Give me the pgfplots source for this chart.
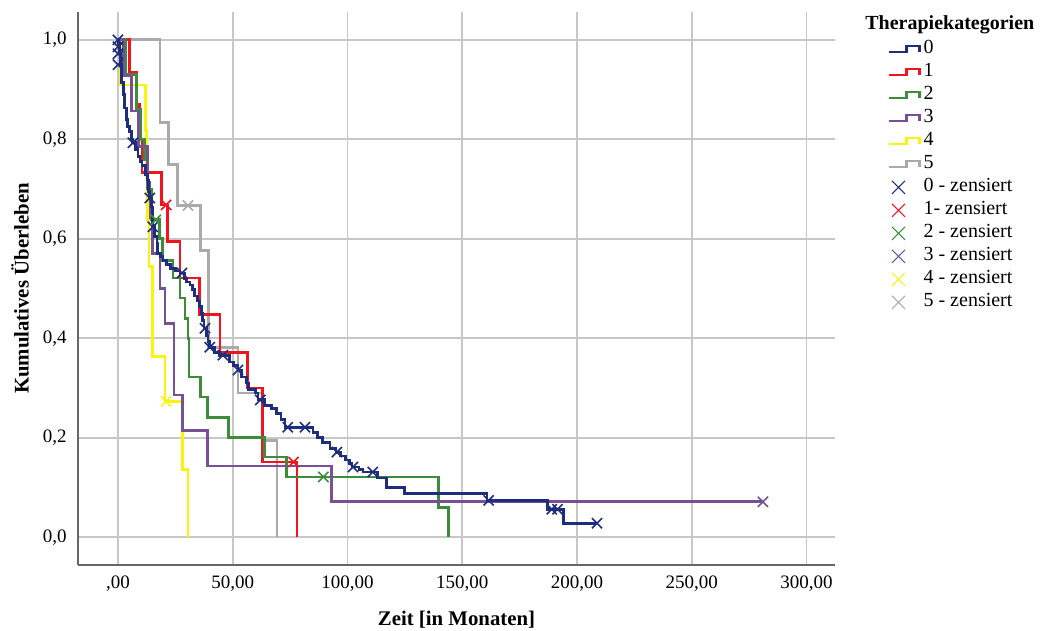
\documentclass[border=0pt]{standalone}
\usepackage{pgfplots}
\pgfplotsset{compat=1.18}
\usepackage{fontspec}
\setmainfont{Liberation Serif}
\definecolor{c0}{RGB}{30,45,125}
\definecolor{c1}{RGB}{240,20,30}
\definecolor{c2}{RGB}{60,140,60}
\definecolor{c3}{RGB}{120,80,150}
\definecolor{c4}{RGB}{248,245,10}
\definecolor{c5}{RGB}{170,170,170}
\pgfplotsset{
  steplegend/.style={legend image code/.code={\draw[##1] (0pt,-1.5pt) -- (9pt,-1.5pt) -- (9pt,1.5pt) -- (15.5pt,1.5pt) -- (15.5pt,-1.5pt);}},
  xlegend/.style={legend image code/.code={\draw[##1] plot coordinates {(5pt,0pt)};}},
  km/.style={const plot, line width=1.4pt, forget plot},
  cens/.style={only marks, mark=x, mark size=3.6pt, line width=0.8pt, forget plot},
}
\begin{document}
\begin{tikzpicture}[x=1pt,y=1pt]
\path[use as bounding box] (0,0) rectangle (520,315.5);
\begin{axis}[
  at={(39pt,33pt)}, anchor=south west,
  scale only axis, width=378.5pt, height=276.5pt,
  xmin=-17.4, xmax=312.4, ymin=-0.056, ymax=1.056,
  axis x line=bottom, axis y line=left,
  axis line style={-, draw=black!60, line width=0.8pt},
  tick style={draw=none},
  grid=major, major grid style={draw=black!22, line width=0.9pt},
  xtick={0,50,100,150,200,250,300},
  xticklabels={{\textnormal{,00}},{\textnormal{50,00}},{\textnormal{100,00}},{\textnormal{150,00}},{\textnormal{200,00}},{\textnormal{250,00}},{\textnormal{300,00}}},
  ytick={0,0.2,0.4,0.6,0.8,1.0},
  yticklabels={{\textnormal{0,0}},{\textnormal{0,2}},{\textnormal{0,4}},{\textnormal{0,6}},{\textnormal{0,8}},{\textnormal{1,0}}},
  ticklabel style={font=\fontsize{9.5}{11}\selectfont},
  xlabel={Zeit [in Monaten]}, ylabel={Kumulatives Überleben},
  every axis x label/.style={at={(axis description cs:0.5,-0.0995)},anchor=center,font=\fontsize{10.4}{12}\selectfont\bfseries},
  every axis y label/.style={at={(axis description cs:-0.0766,0.5)},anchor=center,rotate=90,font=\fontsize{10.4}{12}\selectfont\bfseries},
  clip=false,
  legend cell align=left,
  legend style={at={(axis description cs:1.0687,0.9539)}, anchor=north west, draw=none, fill=none,
    inner sep=0pt, row sep=0pt, column sep=1.5pt,
    nodes={inner sep=0pt, text height=8pt, text depth=3.5pt, font=\fontsize{10}{11}\selectfont}},
]
% ---------- step lines ----------
\addplot[km, color=c5] table {
x y
0 1.0
18.3 0.833
22 0.75
26 0.667
35.8 0.577
39.4 0.382
52.3 0.29
63.2 0.195
69.3 0
};
\addplot[km, color=c4] table {
x y
0 1.0
1 0.909
12 0.818
12.5 0.727
13 0.636
13.5 0.545
15 0.364
20.5 0.273
28.3 0.136
30.5 0
};
\addplot[km, color=c1] table {
x y
0 1.0
5 0.935
8 0.87
9.5 0.80
10.5 0.734
19 0.668
21.5 0.594
27 0.521
35.5 0.447
44.5 0.372
56.5 0.30
63 0.151
78 0
};
\addplot[km, color=c2] table {
x y
0 1.0
3.5 0.93
8 0.86
10 0.80
11.5 0.76
13 0.70
14.5 0.638
18 0.6
19.5 0.557
24 0.521
27 0.481
29.2 0.44
30.5 0.40
31 0.322
36 0.282
39 0.241
48 0.201
64 0.161
73.6 0.121
139.5 0.06
144 0
};
\addplot[km, color=c3] table {
x y
0 1.0
2.5 0.929
6 0.857
9 0.786
13 0.714
14 0.643
15 0.571
18.3 0.5
20.5 0.429
24.4 0.286
28 0.214
39 0.143
93 0.071
281 0.071
};
\addplot[km, color=c0] table {
x y
0 1.0
0.3 0.986
0.6 0.972
1.0 0.95
1.7 0.915
2.3 0.89
3.0 0.863
3.6 0.84
4.3 0.825
5.2 0.815
5.8 0.80
6.5 0.793
7.5 0.78
8.7 0.765
9.6 0.755
10.5 0.748
12.0 0.73
13.0 0.718
13.4 0.695
13.9 0.682
14.5 0.664
15.0 0.645
15.2 0.624
16.0 0.605
17.0 0.59
17.4 0.571
18.5 0.565
19.6 0.557
21.0 0.548
23.0 0.54
25.0 0.535
27.0 0.531
29.0 0.52
30.0 0.513
31.4 0.507
32.5 0.498
33.5 0.485
34.5 0.475
35.7 0.463
36.5 0.45
37.0 0.435
37.5 0.42
38.5 0.405
39.2 0.393
40.0 0.382
42.0 0.372
44.4 0.366
48.5 0.352
50.5 0.345
52.3 0.336
54.0 0.322
56.0 0.31
57.0 0.297
60.0 0.29
61.0 0.276
64.0 0.265
67.0 0.258
69.0 0.248
71.0 0.236
72.8 0.221
85.0 0.21
87.0 0.2
89.0 0.19
92.4 0.179
95.0 0.171
97.0 0.163
99.0 0.155
101.0 0.148
102.0 0.141
105.0 0.136
106.8 0.131
113.0 0.119
117.0 0.10
125.0 0.088
160.8 0.074
187.0 0.056
194.0 0.028
208.7 0.028
};
% ---------- censored ----------
\addplot[cens, color=c0] table {
x y
0 1.0
0 0.986
0 0.972
0 0.95
6.5 0.793
13.9 0.682
15.2 0.624
27.9 0.531
37.9 0.42
40 0.382
45.7 0.366
52.3 0.336
62 0.276
74 0.221
81.5 0.221
95.4 0.171
102.4 0.141
111 0.131
161.5 0.074
189 0.056
191.5 0.056
208.7 0.028
};
\addplot[cens, color=c1] table {
x y
21 0.668
76.5 0.151
};
\addplot[cens, color=c2] table {
x y
16.5 0.638
89.5 0.121
};
\addplot[cens, color=c3] table {
x y
281 0.071
};
\addplot[cens, color=c4] table {
x y
21 0.273
};
\addplot[cens, color=c5] table {
x y
30.5 0.667
};
% ---------- legend ----------
\addlegendimage{steplegend, c0, line width=1.1pt}
\addlegendentry{0}
\addlegendimage{steplegend, c1, line width=1.1pt}
\addlegendentry{1}
\addlegendimage{steplegend, c2, line width=1.1pt}
\addlegendentry{2}
\addlegendimage{steplegend, c3, line width=1.1pt}
\addlegendentry{3}
\addlegendimage{steplegend, c4, line width=1.1pt}
\addlegendentry{4}
\addlegendimage{steplegend, c5, line width=1.1pt}
\addlegendentry{5}
\addlegendimage{xlegend, only marks, mark=x, mark size=4.6pt, line width=0.6pt, c0}
\addlegendentry{0 - zensiert}
\addlegendimage{xlegend, only marks, mark=x, mark size=4.6pt, line width=0.6pt, c1}
\addlegendentry{1- zensiert}
\addlegendimage{xlegend, only marks, mark=x, mark size=4.6pt, line width=0.6pt, c2}
\addlegendentry{2 - zensiert}
\addlegendimage{xlegend, only marks, mark=x, mark size=4.6pt, line width=0.6pt, c3}
\addlegendentry{3 - zensiert}
\addlegendimage{xlegend, only marks, mark=x, mark size=4.6pt, line width=0.6pt, c4}
\addlegendentry{4 - zensiert}
\addlegendimage{xlegend, only marks, mark=x, mark size=4.6pt, line width=0.6pt, c5}
\addlegendentry{5 - zensiert}
\node[anchor=west, inner sep=0pt, font=\fontsize{10}{11}\selectfont\bfseries] at (axis description cs:1.0396,0.9765) {Therapiekategorien};
\end{axis}
\end{tikzpicture}
\end{document}
